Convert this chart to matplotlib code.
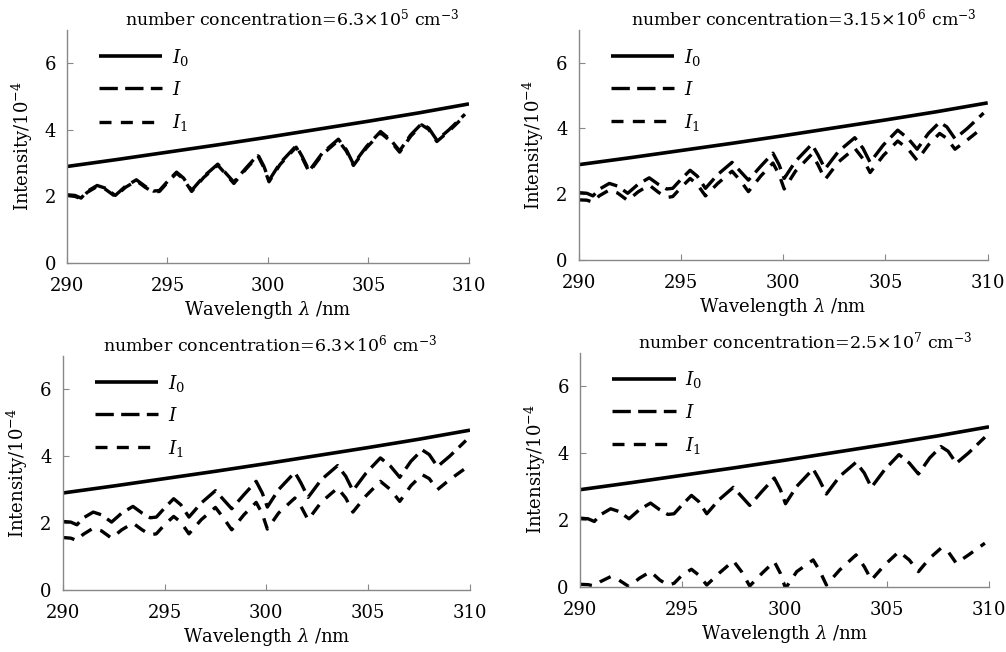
import numpy as np
import matplotlib
matplotlib.use('Agg')
import matplotlib.pyplot as plt

plt.rcParams['font.family'] = 'DejaVu Serif'
plt.rcParams['mathtext.fontset'] = 'dejavuserif'

# wavelength grid (nm)
wl = [290.0, 290.4, 290.7, 291.0, 291.5, 291.9, 292.4, 292.9, 293.45, 293.9,
      294.3, 294.6, 295.0, 295.45, 295.8, 296.2, 296.8, 297.5, 297.9, 298.3,
      298.9, 299.5, 299.8, 300.05, 300.6, 301.4, 301.7, 302.05, 302.7, 303.5,
      303.9, 304.25, 304.9, 305.6, 306.1, 306.55, 307.1, 307.65, 308.0, 308.4,
      309.0, 309.8]

# incident intensity I0
wl0 = [290, 292.5, 295, 297.5, 300, 302.5, 305, 307.5, 310]
I0 = [2.9, 3.11, 3.33, 3.55, 3.78, 4.02, 4.26, 4.51, 4.78]

# intensity I (same in every panel)
I = [2.05, 2.03, 1.95, 2.15, 2.33, 2.25, 2.03, 2.3, 2.5, 2.3,
     2.16, 2.18, 2.45, 2.73, 2.55, 2.18, 2.6, 2.97, 2.7, 2.43,
     2.85, 3.25, 2.9, 2.48, 3.0, 3.52, 3.2, 2.77, 3.3, 3.72,
     3.4, 2.97, 3.5, 3.95, 3.7, 3.37, 3.85, 4.19, 4.05, 3.69,
     4.0, 4.47]

# I1 for each number concentration
I1_a = [2.03, 2.0, 1.93, 2.12, 2.3, 2.22, 2.0, 2.27, 2.47, 2.27,
        2.13, 2.15, 2.42, 2.7, 2.52, 2.15, 2.57, 2.94, 2.67, 2.39,
        2.82, 3.22, 2.86, 2.44, 2.96, 3.48, 3.16, 2.73, 3.26, 3.68,
        3.36, 2.93, 3.46, 3.91, 3.66, 3.33, 3.81, 4.15, 4.01, 3.65,
        3.96, 4.43]
I1_b = [1.83, 1.82, 1.76, 1.95, 2.13, 2.04, 1.81, 2.07, 2.28, 2.06,
        1.9, 1.93, 2.2, 2.48, 2.3, 1.95, 2.33, 2.7, 2.42, 2.08,
        2.55, 2.95, 2.6, 2.16, 2.7, 3.22, 2.9, 2.45, 2.98, 3.4,
        3.08, 2.66, 3.18, 3.62, 3.38, 3.03, 3.5, 3.85, 3.7, 3.37,
        3.65, 4.05]
I1_c = [1.57, 1.55, 1.48, 1.66, 1.85, 1.77, 1.55, 1.8, 2.0, 1.8,
        1.65, 1.68, 1.95, 2.2, 2.03, 1.68, 2.1, 2.47, 2.15, 1.8,
        2.25, 2.62, 2.28, 1.82, 2.3, 2.75, 2.5, 2.1, 2.63, 3.05,
        2.75, 2.33, 2.82, 3.25, 3.0, 2.65, 3.12, 3.45, 3.33, 3.0,
        3.3, 3.65]
I1_d = [0.07, 0.06, 0.02, 0.15, 0.3, 0.2, 0.0, 0.25, 0.45, 0.2,
        0.05, 0.1, 0.35, 0.52, 0.35, 0.05, 0.4, 0.77, 0.45, 0.02,
        0.4, 0.75, 0.4, -0.05, 0.45, 0.8, 0.5, 0.05, 0.5, 0.95,
        0.6, 0.2, 0.65, 1.05, 0.8, 0.45, 0.85, 1.15, 1.05, 0.7,
        0.95, 1.3]

titles = [r'number concentration=6.3$\times$10$^{5}$ cm$^{-3}$',
          r'number concentration=3.15$\times$10$^{6}$ cm$^{-3}$',
          r'number concentration=6.3$\times$10$^{6}$ cm$^{-3}$',
          r'number concentration=2.5$\times$10$^{7}$ cm$^{-3}$']
I1_all = [I1_a, I1_b, I1_c, I1_d]

# axes boxes in figure fractions
boxes = [[0.0666, 0.5966, 0.3996, 0.3574],
         [0.5752, 0.6012, 0.4066, 0.3530],
         [0.0623, 0.0951, 0.4049, 0.3590],
         [0.5765, 0.1002, 0.4066, 0.3590]]
title_x = [0.56, 0.55, 0.51, 0.55]

fig = plt.figure(figsize=(10.06, 6.52), dpi=100)

for k in range(4):
    ax = fig.add_axes(boxes[k])
    ax.plot(wl0, I0, color='black', lw=2.6, solid_capstyle='butt', label=r'$I_0$')
    ax.plot(wl, I, color='black', lw=2.4, dashes=(5.5, 2.2), label=r'$I$')
    ax.plot(wl, I1_all[k], color='black', lw=2.4, dashes=(3.6, 2.8), label=r'$I_1$')
    ax.set_xlim(290, 310)
    ax.set_ylim(0, 7)
    ax.set_xticks([290, 295, 300, 305, 310])
    ax.set_yticks([0, 2, 4, 6])
    for s in ['top', 'right']:
        ax.spines[s].set_visible(False)
    for s in ['left', 'bottom']:
        ax.spines[s].set_color('#888888')
        ax.spines[s].set_linewidth(1.0)
    ax.tick_params(direction='in', length=4, color='#888888', labelsize=13)
    ax.tick_params(axis='x', pad=10)
    ax.tick_params(axis='y', pad=8)
    ax.set_xlabel(r'Wavelength $\lambda$ /nm', fontsize=13, labelpad=3)
    ax.set_ylabel(r'Intensity/10$^{-4}$', fontsize=13, labelpad=7)
    ax.set_title(titles[k], fontsize=12.5, x=title_x[k], pad=3)
    ax.legend(loc='upper left', bbox_to_anchor=(0.06, 0.96), frameon=False,
              fontsize=13.5, handlelength=3.4, labelspacing=0.7, borderaxespad=0,
              handletextpad=0.5)

fig.savefig('out.png', dpi=100)
